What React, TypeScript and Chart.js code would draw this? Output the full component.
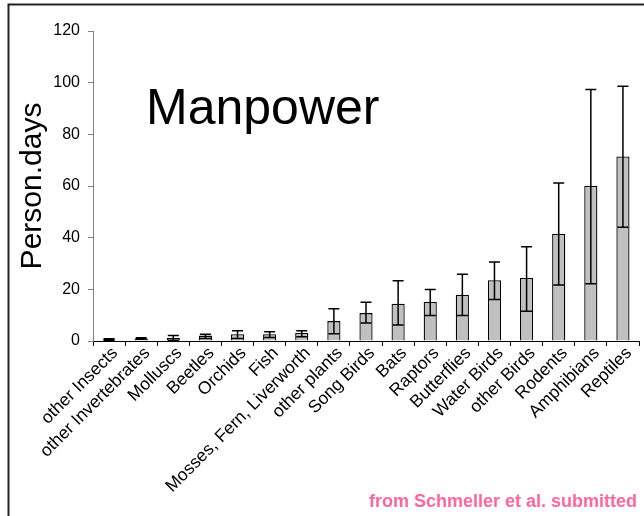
import React, { useEffect, useRef } from "react";
import { Chart, registerables } from "chart.js";

Chart.register(...registerables);

const categories = [
  "other Insects",
  "other Invertebrates",
  "Molluscs",
  "Beetles",
  "Orchids",
  "Fish",
  "Mosses, Fern, Liverworth",
  "other plants",
  "Song Birds",
  "Bats",
  "Raptors",
  "Butterflies",
  "Water Birds",
  "other Birds",
  "Rodents",
  "Amphibians",
  "Reptiles",
];

const means = [0.6, 1.0, 1.2, 2.1, 2.6, 2.6, 3.1, 7.7, 10.8, 14.4, 15.1, 17.9, 23.5, 24.4, 41.5, 60.1, 71.4];
const errLow = [0.3, 0.7, 0.3, 1.0, 1.0, 1.4, 1.6, 2.8, 7.0, 6.2, 9.9, 9.9, 16.1, 11.5, 21.7, 22.2, 44.0];
const errHigh = [0.9, 1.3, 2.1, 2.6, 4.0, 3.6, 4.0, 12.5, 15.0, 23.3, 19.9, 25.8, 30.6, 36.5, 61.2, 97.4, 98.6];

const yTicks = [0, 20, 40, 60, 80, 100, 120];

const chartTitle = "Manpower";
const yTitle = "Person.days";
const sourceNote = "from Schmeller et al. submitted";

const errorBarPlugin = {
  id: "errorBars",
  afterDatasetsDraw(chart: any) {
    const ctx = chart.ctx;
    const meta = chart.getDatasetMeta(0);
    const y = chart.scales.y;
    ctx.save();
    ctx.strokeStyle = "#000";
    ctx.lineWidth = 1.5;
    meta.data.forEach((bar: any, i: number) => {
      const x = bar.x;
      const yl = y.getPixelForValue(errLow[i]);
      const yh = y.getPixelForValue(errHigh[i]);
      const cap = 5.5;
      ctx.beginPath();
      ctx.moveTo(x, yl);
      ctx.lineTo(x, yh);
      ctx.moveTo(x - cap, yh);
      ctx.lineTo(x + cap, yh);
      ctx.moveTo(x - cap, yl);
      ctx.lineTo(x + cap, yl);
      ctx.stroke();
    });
    ctx.restore();
  },
};

const decorPlugin = {
  id: "decor",
  beforeDraw(chart: any) {
    const ctx = chart.ctx;
    ctx.save();
    ctx.fillStyle = "#fff";
    ctx.fillRect(0, 0, chart.width, chart.height);
    ctx.strokeStyle = "#222";
    ctx.lineWidth = 2;
    ctx.beginPath();
    ctx.moveTo(chart.width, 4.5);
    ctx.lineTo(8.5, 4.5);
    ctx.lineTo(8.5, chart.height);
    ctx.stroke();
    ctx.restore();
  },
  afterDraw(chart: any) {
    const ctx = chart.ctx;
    const area = chart.chartArea;
    const y = chart.scales.y;
    ctx.save();
    ctx.fillStyle = "#000";
    ctx.font = "50px 'Liberation Sans', Arial, sans-serif";
    ctx.textAlign = "left";
    ctx.textBaseline = "alphabetic";
    ctx.fillText(chartTitle, area.left + 53, y.getPixelForValue(84));
    ctx.fillStyle = "#ff6699";
    ctx.font = "bold 18px 'Liberation Sans', Arial, sans-serif";
    ctx.textAlign = "right";
    ctx.fillText(sourceNote, chart.width - 7, chart.height - 9);
    ctx.restore();
  },
};

export default function App() {
  const ref = useRef<HTMLCanvasElement>(null);
  useEffect(() => {
    document.body.style.margin = "0";
    const chart = new Chart(ref.current as HTMLCanvasElement, {
      type: "bar",
      data: {
        labels: categories,
        datasets: [
          {
            data: means,
            backgroundColor: "#c0c0c0",
            borderColor: "#000",
            borderWidth: 1.3,
            barPercentage: 0.41,
            categoryPercentage: 1,
          },
        ],
      },
      options: {
        animation: false,
        responsive: false,
        maintainAspectRatio: false,
        layout: { padding: { top: 31, right: 5, left: 0, bottom: 0 } },
        plugins: { legend: { display: false }, tooltip: { enabled: false } },
        scales: {
          x: {
            afterFit: (s: any) => {
              s.height = 175;
            },
            grid: { display: true, drawOnChartArea: false, tickLength: 5, color: "#000", offset: true },
            border: { color: "#000", width: 1 },
            ticks: {
              autoSkip: false,
              minRotation: 45,
              maxRotation: 45,
              padding: -3,
              labelOffset: 6,
              color: "#000",
              font: { family: "'Liberation Sans', Arial, sans-serif", size: 17.5 },
            },
          },
          y: {
            min: 0,
            max: 120,
            afterFit: (s: any) => {
              s.width = 93;
            },
            afterBuildTicks: (s: any) => {
              s.ticks = yTicks.map((v) => ({ value: v }));
            },
            grid: { display: true, drawOnChartArea: false, tickLength: 5, color: "#808080" },
            border: { color: "#808080", width: 1 },
            ticks: {
              padding: 8,
              color: "#000",
              font: { family: "'Liberation Sans', Arial, sans-serif", size: 16 },
            },
            title: {
              display: true,
              text: yTitle,
              color: "#000",
              padding: { top: 15, bottom: 0 },
              font: { family: "'Liberation Sans', Arial, sans-serif", size: 30, weight: "normal" },
            },
          },
        },
      },
      plugins: [decorPlugin, errorBarPlugin],
    });
    return () => chart.destroy();
  }, []);
  return (
    <div style={{ width: 644, height: 516 }}>
      <canvas ref={ref} width={644} height={516} style={{ display: "block" }} />
    </div>
  );
}
